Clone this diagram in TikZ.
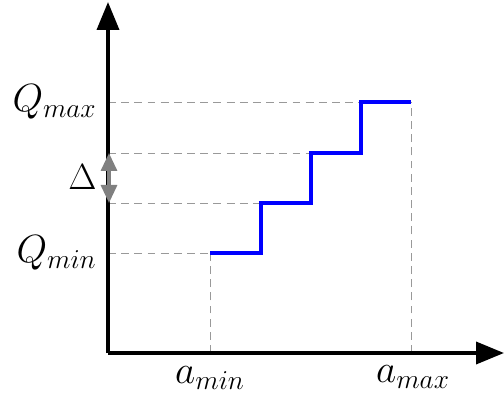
\documentclass[tikz,border=0pt]{standalone}
\usepackage{amsmath,amssymb}
\usepackage{graphicx}
\usepackage{tikz}
\usetikzlibrary{positioning}
\usetikzlibrary{arrows.meta,calc}
\tikzstyle{axis} = [line width=2.1pt,-{Triangle[length=0.56cm,width=0.44cm]}]
\tikzstyle{guide} = [gray!80,line width=0.5pt,dash pattern=on 4.5pt off 3pt]
\tikzstyle{stair} = [blue,line width=2.2pt]
\tikzstyle{lbl} = [inner sep=0pt,font=\huge]
\newcommand{\biglbl}[1]{\scalebox{1.08}{$#1$}}

\begin{document}
\begin{tikzpicture}
\useasboundingbox (-2.16,-0.88) rectangle (7.92,7.06);
\coordinate (O) at (0,0);
\coordinate (xend) at (7.92,0);
\coordinate (yend) at (0,7.02);
\coordinate (s1) at (2.04,2);
\coordinate (s2) at (3.06,3);
\coordinate (s3) at (4.06,4);
\coordinate (s4) at (5.06,5.02);
\coordinate (s5) at (6.06,5.02);
\coordinate (q1) at (0,2);
\coordinate (q2) at (0,3);
\coordinate (q3) at (0,4);
\coordinate (q4) at (0,5.02);
\coordinate (b1) at (2.04,0);
\coordinate (b2) at (6.06,0);
% guides
\draw[guide] (q1)--(s1);
\draw[guide] (q2)--(3.06,3);
\draw[guide] (q3)--(4.06,4);
\draw[guide] (q4)--(s5);
\draw[guide] (b1)--(s1);
\draw[guide] (b2)--(s5);
% axes
\draw[axis] (O)--(xend);
\draw[axis] (O)--(yend);
% quantizer steps
\draw[stair] (s1) -| (s2) -| (s3) -| (s4) -- (s5);
% delta
\draw[gray,line width=1.8pt,{Triangle[length=0.36cm,width=0.32cm]}-{Triangle[length=0.36cm,width=0.32cm]}] (0.02,4) -- (0.02,3);
\draw (-0.51,3.51) node (delta) [lbl] {$\Delta$};
\draw (-0.22,5.02) node (qmax) [lbl,anchor=east] {\biglbl{Q_{max}}};
\draw (-0.22,2) node (qmin) [lbl,anchor=east] {\biglbl{Q_{min}}};
\draw (2.04,-0.27) node (amin) [lbl,anchor=north] {\biglbl{a_{min}}};
\draw (6.1,-0.25) node (amax) [lbl,anchor=north] {\biglbl{a_{max}}};
\end{tikzpicture}
\end{document}
